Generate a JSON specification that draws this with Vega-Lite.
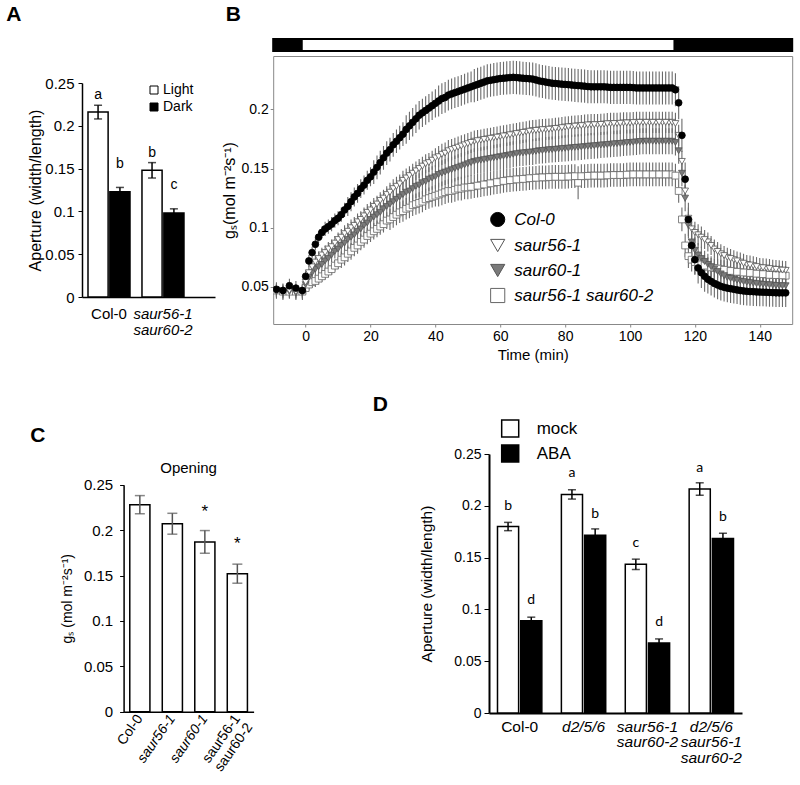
{
"$schema": "https://vega.github.io/schema/vega-lite/v6.json",
"padding": {"left": 6, "top": 3, "right": 2, "bottom": 2},
"background": "white",
"config": {
  "view": {"stroke": null},
  "font": "Liberation Sans",
  "axis": {"grid": false, "domainColor": "black", "tickColor": "black", "labelColor": "black", "titleColor": "black", "titleFontWeight": "normal", "labelFont": "Liberation Sans", "titleFont": "Liberation Sans"},
  "legend": {"labelFont": "Liberation Sans", "labelColor": "black", "padding": 0},
  "title": {"font": "Liberation Sans", "color": "black"}
},
"datasets": {
  "pa": [
    {"geno": "Col-0", "cond": "Light", "v": 0.216, "se": 0.008, "lab": "a"},
    {"geno": "Col-0", "cond": "Dark", "v": 0.123, "se": 0.005, "lab": "b"},
    {"geno": "saur56-1 saur60-2", "cond": "Light", "v": 0.148, "se": 0.009, "lab": "b"},
    {"geno": "saur56-1 saur60-2", "cond": "Dark", "v": 0.098, "se": 0.005, "lab": "c"}
  ],
  "pc": [
    {"geno": "Col-0", "v": 0.228, "se": 0.010, "sig": ""},
    {"geno": "saur56-1", "v": 0.207, "se": 0.0115, "sig": ""},
    {"geno": "saur60-1", "v": 0.187, "se": 0.0125, "sig": "*"},
    {"geno": "saur56-1 saur60-2", "v": 0.152, "se": 0.0105, "sig": "*"}
  ],
  "pd": [
    {"geno": "Col-0", "trt": "mock", "v": 0.180, "se": 0.004, "lab": "b"},
    {"geno": "Col-0", "trt": "ABA", "v": 0.089, "se": 0.0035, "lab": "d"},
    {"geno": "d2/5/6", "trt": "mock", "v": 0.211, "se": 0.0045, "lab": "a"},
    {"geno": "d2/5/6", "trt": "ABA", "v": 0.1715, "se": 0.0062, "lab": "b"},
    {"geno": "saur56-1 saur60-2", "trt": "mock", "v": 0.1435, "se": 0.005, "lab": "c"},
    {"geno": "saur56-1 saur60-2", "trt": "ABA", "v": 0.0675, "se": 0.004, "lab": "d"},
    {"geno": "d2/5/6 saur56-1 saur60-2", "trt": "mock", "v": 0.2162, "se": 0.006, "lab": "a"},
    {"geno": "d2/5/6 saur56-1 saur60-2", "trt": "ABA", "v": 0.1685, "se": 0.005, "lab": "b"}
  ],
  "pb": [
{"t":-9,"g":"d","v":0.047,"e":0.005},{"t":-7,"g":"d","v":0.046,"e":0.005},{"t":-5,"g":"d","v":0.046,"e":0.005},{"t":-3,"g":"d","v":0.046,"e":0.005},{"t":-1,"g":"d","v":0.046,"e":0.005},
{"t":0,"g":"d","v":0.049,"e":0.005},{"t":1,"g":"d","v":0.052,"e":0.005},{"t":2,"g":"d","v":0.054,"e":0.005},{"t":3,"g":"d","v":0.055,"e":0.005},{"t":4,"g":"d","v":0.057,"e":0.005},{"t":5,"g":"d","v":0.059,"e":0.005},{"t":6,"g":"d","v":0.061,"e":0.005},{"t":7,"g":"d","v":0.063,"e":0.005},{"t":8,"g":"d","v":0.065,"e":0.005},{"t":9,"g":"d","v":0.068,"e":0.005},{"t":10,"g":"d","v":0.070,"e":0.005},
{"t":11,"g":"d","v":0.073,"e":0.007},{"t":12,"g":"d","v":0.075,"e":0.007},{"t":13,"g":"d","v":0.078,"e":0.007},{"t":14,"g":"d","v":0.080,"e":0.007},{"t":15,"g":"d","v":0.083,"e":0.007},{"t":16,"g":"d","v":0.085,"e":0.007},{"t":17,"g":"d","v":0.088,"e":0.007},{"t":18,"g":"d","v":0.090,"e":0.007},{"t":19,"g":"d","v":0.093,"e":0.007},{"t":20,"g":"d","v":0.095,"e":0.007},{"t":21,"g":"d","v":0.097,"e":0.007},{"t":22,"g":"d","v":0.099,"e":0.007},{"t":23,"g":"d","v":0.101,"e":0.007},{"t":24,"g":"d","v":0.103,"e":0.007},{"t":25,"g":"d","v":0.106,"e":0.007},
{"t":26,"g":"d","v":0.107,"e":0.009},{"t":27,"g":"d","v":0.109,"e":0.009},{"t":28,"g":"d","v":0.111,"e":0.009},{"t":29,"g":"d","v":0.113,"e":0.009},{"t":30,"g":"d","v":0.114,"e":0.009},{"t":31,"g":"d","v":0.116,"e":0.009},{"t":32,"g":"d","v":0.117,"e":0.009},{"t":33,"g":"d","v":0.119,"e":0.009},{"t":34,"g":"d","v":0.120,"e":0.009},{"t":35,"g":"d","v":0.121,"e":0.009},{"t":36,"g":"d","v":0.122,"e":0.009},{"t":37,"g":"d","v":0.124,"e":0.009},{"t":38,"g":"d","v":0.125,"e":0.009},{"t":39,"g":"d","v":0.126,"e":0.009},{"t":40,"g":"d","v":0.127,"e":0.009},
{"t":41,"g":"d","v":0.128,"e":0.010},{"t":42,"g":"d","v":0.129,"e":0.010},{"t":43,"g":"d","v":0.130,"e":0.010},{"t":44,"g":"d","v":0.131,"e":0.010},{"t":45,"g":"d","v":0.131,"e":0.010},{"t":46,"g":"d","v":0.132,"e":0.010},{"t":47,"g":"d","v":0.133,"e":0.010},{"t":48,"g":"d","v":0.133,"e":0.010},{"t":49,"g":"d","v":0.134,"e":0.010},{"t":50,"g":"d","v":0.134,"e":0.010},
{"t":52,"g":"d","v":0.135,"e":0.010},{"t":54,"g":"d","v":0.136,"e":0.010},{"t":56,"g":"d","v":0.137,"e":0.010},{"t":58,"g":"d","v":0.138,"e":0.010},{"t":60,"g":"d","v":0.139,"e":0.010},{"t":62,"g":"d","v":0.140,"e":0.010},{"t":64,"g":"d","v":0.1405,"e":0.010},{"t":66,"g":"d","v":0.141,"e":0.010},{"t":68,"g":"d","v":0.1415,"e":0.010},{"t":70,"g":"d","v":0.142,"e":0.010},{"t":72,"g":"d","v":0.1425,"e":0.010},{"t":74,"g":"d","v":0.1425,"e":0.010},{"t":76,"g":"d","v":0.143,"e":0.010},{"t":78,"g":"d","v":0.143,"e":0.010},{"t":80,"g":"d","v":0.143,"e":0.010},{"t":82,"g":"d","v":0.1435,"e":0.010},{"t":84,"g":"d","v":0.138,"e":0.014},{"t":86,"g":"d","v":0.1435,"e":0.010},{"t":88,"g":"d","v":0.144,"e":0.010},{"t":90,"g":"d","v":0.144,"e":0.010},{"t":92,"g":"d","v":0.144,"e":0.010},{"t":94,"g":"d","v":0.1445,"e":0.010},{"t":96,"g":"d","v":0.1445,"e":0.010},{"t":98,"g":"d","v":0.1445,"e":0.010},{"t":100,"g":"d","v":0.145,"e":0.010},{"t":102,"g":"d","v":0.145,"e":0.010},{"t":104,"g":"d","v":0.145,"e":0.010},{"t":106,"g":"d","v":0.145,"e":0.010},{"t":108,"g":"d","v":0.145,"e":0.010},{"t":110,"g":"d","v":0.145,"e":0.010},{"t":112,"g":"d","v":0.145,"e":0.010},
{"t":113,"g":"d","v":0.145,"e":0.010},{"t":114,"g":"d","v":0.144,"e":0.010},{"t":115,"g":"d","v":0.131,"e":0.010},{"t":116,"g":"d","v":0.107,"e":0.010},{"t":117,"g":"d","v":0.085,"e":0.010},{"t":118,"g":"d","v":0.076,"e":0.010},{"t":119,"g":"d","v":0.073,"e":0.010},{"t":120,"g":"d","v":0.071,"e":0.010},{"t":121,"g":"d","v":0.070,"e":0.010},{"t":122,"g":"d","v":0.069,"e":0.010},
{"t":124,"g":"d","v":0.067,"e":0.008},{"t":126,"g":"d","v":0.066,"e":0.008},{"t":128,"g":"d","v":0.065,"e":0.008},{"t":130,"g":"d","v":0.064,"e":0.008},{"t":132,"g":"d","v":0.063,"e":0.008},{"t":134,"g":"d","v":0.0625,"e":0.008},{"t":136,"g":"d","v":0.062,"e":0.008},{"t":138,"g":"d","v":0.0615,"e":0.008},{"t":140,"g":"d","v":0.061,"e":0.008},{"t":142,"g":"d","v":0.0605,"e":0.008},{"t":144,"g":"d","v":0.060,"e":0.008},{"t":146,"g":"d","v":0.060,"e":0.008},{"t":148,"g":"d","v":0.0595,"e":0.008},
{"t":51,"g":"d","v":0.1345,"e":0.010},{"t":53,"g":"d","v":0.1355,"e":0.010},{"t":55,"g":"d","v":0.1365,"e":0.010},{"t":57,"g":"d","v":0.1375,"e":0.010},{"t":59,"g":"d","v":0.1385,"e":0.010},{"t":61,"g":"d","v":0.1395,"e":0.010},{"t":63,"g":"d","v":0.1402,"e":0.010},{"t":65,"g":"d","v":0.1408,"e":0.010},{"t":67,"g":"d","v":0.1412,"e":0.010},{"t":69,"g":"d","v":0.1418,"e":0.010},{"t":71,"g":"d","v":0.1422,"e":0.010},{"t":73,"g":"d","v":0.1425,"e":0.010},{"t":75,"g":"d","v":0.1428,"e":0.010},{"t":77,"g":"d","v":0.143,"e":0.010},{"t":79,"g":"d","v":0.143,"e":0.010},{"t":81,"g":"d","v":0.1432,"e":0.010},{"t":83,"g":"d","v":0.1435,"e":0.010},{"t":85,"g":"d","v":0.1435,"e":0.010},{"t":87,"g":"d","v":0.1438,"e":0.010},{"t":89,"g":"d","v":0.144,"e":0.010},{"t":91,"g":"d","v":0.144,"e":0.010},{"t":93,"g":"d","v":0.1442,"e":0.010},{"t":95,"g":"d","v":0.1445,"e":0.010},{"t":97,"g":"d","v":0.1445,"e":0.010},{"t":99,"g":"d","v":0.1448,"e":0.010},{"t":101,"g":"d","v":0.145,"e":0.010},{"t":103,"g":"d","v":0.145,"e":0.010},{"t":105,"g":"d","v":0.145,"e":0.010},{"t":107,"g":"d","v":0.145,"e":0.010},{"t":109,"g":"d","v":0.145,"e":0.010},{"t":111,"g":"d","v":0.145,"e":0.010},
{"t":123,"g":"d","v":0.068,"e":0.008},{"t":125,"g":"d","v":0.0665,"e":0.008},{"t":127,"g":"d","v":0.0655,"e":0.008},{"t":129,"g":"d","v":0.0645,"e":0.008},{"t":131,"g":"d","v":0.0635,"e":0.008},{"t":133,"g":"d","v":0.0628,"e":0.008},{"t":135,"g":"d","v":0.0622,"e":0.008},{"t":137,"g":"d","v":0.0618,"e":0.008},{"t":139,"g":"d","v":0.0612,"e":0.008},{"t":141,"g":"d","v":0.0608,"e":0.008},{"t":143,"g":"d","v":0.0602,"e":0.008},{"t":145,"g":"d","v":0.060,"e":0.008},{"t":147,"g":"d","v":0.0598,"e":0.008},

{"t":-9,"g":"c","v":0.046,"e":0.006},{"t":-7,"g":"c","v":0.045,"e":0.006},{"t":-5,"g":"c","v":0.046,"e":0.006},{"t":-3,"g":"c","v":0.045,"e":0.006},{"t":-1,"g":"c","v":0.045,"e":0.006},
{"t":0,"g":"c","v":0.052,"e":0.006},{"t":1,"g":"c","v":0.058,"e":0.006},{"t":2,"g":"c","v":0.062,"e":0.006},{"t":3,"g":"c","v":0.065,"e":0.006},{"t":4,"g":"c","v":0.067,"e":0.006},{"t":5,"g":"c","v":0.069,"e":0.006},{"t":6,"g":"c","v":0.072,"e":0.006},{"t":7,"g":"c","v":0.074,"e":0.006},{"t":8,"g":"c","v":0.077,"e":0.006},{"t":9,"g":"c","v":0.080,"e":0.006},{"t":10,"g":"c","v":0.082,"e":0.006},
{"t":11,"g":"c","v":0.085,"e":0.008},{"t":12,"g":"c","v":0.087,"e":0.008},{"t":13,"g":"c","v":0.090,"e":0.008},{"t":14,"g":"c","v":0.092,"e":0.008},{"t":15,"g":"c","v":0.094,"e":0.008},{"t":16,"g":"c","v":0.097,"e":0.008},{"t":17,"g":"c","v":0.099,"e":0.008},{"t":18,"g":"c","v":0.102,"e":0.008},{"t":19,"g":"c","v":0.104,"e":0.008},{"t":20,"g":"c","v":0.107,"e":0.008},{"t":21,"g":"c","v":0.109,"e":0.008},{"t":22,"g":"c","v":0.111,"e":0.008},{"t":23,"g":"c","v":0.113,"e":0.008},{"t":24,"g":"c","v":0.116,"e":0.008},{"t":25,"g":"c","v":0.118,"e":0.008},
{"t":26,"g":"c","v":0.120,"e":0.010},{"t":27,"g":"c","v":0.122,"e":0.010},{"t":28,"g":"c","v":0.124,"e":0.010},{"t":29,"g":"c","v":0.126,"e":0.010},{"t":30,"g":"c","v":0.128,"e":0.010},{"t":31,"g":"c","v":0.130,"e":0.010},{"t":32,"g":"c","v":0.131,"e":0.010},{"t":33,"g":"c","v":0.133,"e":0.010},{"t":34,"g":"c","v":0.135,"e":0.010},{"t":35,"g":"c","v":0.136,"e":0.010},{"t":36,"g":"c","v":0.138,"e":0.010},{"t":37,"g":"c","v":0.139,"e":0.010},{"t":38,"g":"c","v":0.141,"e":0.010},{"t":39,"g":"c","v":0.142,"e":0.010},{"t":40,"g":"c","v":0.143,"e":0.010},
{"t":41,"g":"c","v":0.145,"e":0.011},{"t":42,"g":"c","v":0.146,"e":0.011},{"t":43,"g":"c","v":0.147,"e":0.011},{"t":44,"g":"c","v":0.148,"e":0.011},{"t":45,"g":"c","v":0.149,"e":0.011},{"t":46,"g":"c","v":0.150,"e":0.011},{"t":47,"g":"c","v":0.151,"e":0.011},{"t":48,"g":"c","v":0.152,"e":0.011},{"t":49,"g":"c","v":0.153,"e":0.011},{"t":50,"g":"c","v":0.154,"e":0.011},
{"t":52,"g":"c","v":0.156,"e":0.011},{"t":54,"g":"c","v":0.157,"e":0.011},{"t":56,"g":"c","v":0.158,"e":0.011},{"t":58,"g":"c","v":0.159,"e":0.011},{"t":60,"g":"c","v":0.160,"e":0.011},{"t":62,"g":"c","v":0.161,"e":0.011},{"t":64,"g":"c","v":0.162,"e":0.011},{"t":66,"g":"c","v":0.163,"e":0.011},{"t":68,"g":"c","v":0.1635,"e":0.011},{"t":70,"g":"c","v":0.164,"e":0.011},{"t":72,"g":"c","v":0.165,"e":0.011},{"t":74,"g":"c","v":0.1655,"e":0.011},{"t":76,"g":"c","v":0.166,"e":0.011},{"t":78,"g":"c","v":0.1665,"e":0.011},{"t":80,"g":"c","v":0.167,"e":0.011},{"t":82,"g":"c","v":0.1675,"e":0.011},{"t":84,"g":"c","v":0.168,"e":0.011},{"t":86,"g":"c","v":0.1685,"e":0.011},{"t":88,"g":"c","v":0.169,"e":0.011},{"t":90,"g":"c","v":0.1695,"e":0.011},{"t":92,"g":"c","v":0.170,"e":0.011},{"t":94,"g":"c","v":0.1705,"e":0.011},{"t":96,"g":"c","v":0.171,"e":0.011},{"t":98,"g":"c","v":0.1715,"e":0.011},{"t":100,"g":"c","v":0.172,"e":0.011},{"t":102,"g":"c","v":0.1725,"e":0.011},{"t":104,"g":"c","v":0.173,"e":0.011},{"t":106,"g":"c","v":0.173,"e":0.011},{"t":108,"g":"c","v":0.173,"e":0.011},{"t":110,"g":"c","v":0.173,"e":0.011},{"t":112,"g":"c","v":0.173,"e":0.011},
{"t":113,"g":"c","v":0.173,"e":0.011},{"t":114,"g":"c","v":0.172,"e":0.011},{"t":115,"g":"c","v":0.165,"e":0.011},{"t":116,"g":"c","v":0.146,"e":0.011},{"t":117,"g":"c","v":0.125,"e":0.011},{"t":118,"g":"c","v":0.102,"e":0.011},{"t":119,"g":"c","v":0.088,"e":0.011},{"t":120,"g":"c","v":0.081,"e":0.011},{"t":121,"g":"c","v":0.077,"e":0.010},{"t":122,"g":"c","v":0.074,"e":0.010},
{"t":124,"g":"c","v":0.069,"e":0.009},{"t":126,"g":"c","v":0.065,"e":0.009},{"t":128,"g":"c","v":0.061,"e":0.009},{"t":130,"g":"c","v":0.058,"e":0.009},{"t":132,"g":"c","v":0.0565,"e":0.009},{"t":134,"g":"c","v":0.055,"e":0.009},{"t":136,"g":"c","v":0.054,"e":0.009},{"t":138,"g":"c","v":0.0532,"e":0.009},{"t":140,"g":"c","v":0.0525,"e":0.009},{"t":142,"g":"c","v":0.052,"e":0.009},{"t":144,"g":"c","v":0.0515,"e":0.009},{"t":146,"g":"c","v":0.051,"e":0.009},{"t":148,"g":"c","v":0.051,"e":0.009},
{"t":51,"g":"c","v":0.155,"e":0.011},{"t":53,"g":"c","v":0.1565,"e":0.011},{"t":55,"g":"c","v":0.1575,"e":0.011},{"t":57,"g":"c","v":0.1585,"e":0.011},{"t":59,"g":"c","v":0.1595,"e":0.011},{"t":61,"g":"c","v":0.1605,"e":0.011},{"t":63,"g":"c","v":0.1615,"e":0.011},{"t":65,"g":"c","v":0.1625,"e":0.011},{"t":67,"g":"c","v":0.1632,"e":0.011},{"t":69,"g":"c","v":0.1638,"e":0.011},{"t":71,"g":"c","v":0.1645,"e":0.011},{"t":73,"g":"c","v":0.1652,"e":0.011},{"t":75,"g":"c","v":0.1658,"e":0.011},{"t":77,"g":"c","v":0.1662,"e":0.011},{"t":79,"g":"c","v":0.1668,"e":0.011},{"t":81,"g":"c","v":0.1672,"e":0.011},{"t":83,"g":"c","v":0.1678,"e":0.011},{"t":85,"g":"c","v":0.1682,"e":0.011},{"t":87,"g":"c","v":0.1688,"e":0.011},{"t":89,"g":"c","v":0.1692,"e":0.011},{"t":91,"g":"c","v":0.1698,"e":0.011},{"t":93,"g":"c","v":0.1702,"e":0.011},{"t":95,"g":"c","v":0.1708,"e":0.011},{"t":97,"g":"c","v":0.1712,"e":0.011},{"t":99,"g":"c","v":0.1718,"e":0.011},{"t":101,"g":"c","v":0.1722,"e":0.011},{"t":103,"g":"c","v":0.1728,"e":0.011},{"t":105,"g":"c","v":0.173,"e":0.011},{"t":107,"g":"c","v":0.173,"e":0.011},{"t":109,"g":"c","v":0.173,"e":0.011},{"t":111,"g":"c","v":0.173,"e":0.011},
{"t":123,"g":"c","v":0.0715,"e":0.009},{"t":125,"g":"c","v":0.067,"e":0.009},{"t":127,"g":"c","v":0.063,"e":0.009},{"t":129,"g":"c","v":0.0595,"e":0.009},{"t":131,"g":"c","v":0.0572,"e":0.009},{"t":133,"g":"c","v":0.0557,"e":0.009},{"t":135,"g":"c","v":0.0545,"e":0.009},{"t":137,"g":"c","v":0.0536,"e":0.009},{"t":139,"g":"c","v":0.0528,"e":0.009},{"t":141,"g":"c","v":0.0522,"e":0.009},{"t":143,"g":"c","v":0.0518,"e":0.009},{"t":145,"g":"c","v":0.0512,"e":0.009},{"t":147,"g":"c","v":0.051,"e":0.009},

{"t":-9,"g":"b","v":0.047,"e":0.006},{"t":-7,"g":"b","v":0.046,"e":0.006},{"t":-5,"g":"b","v":0.047,"e":0.006},{"t":-3,"g":"b","v":0.046,"e":0.006},{"t":-1,"g":"b","v":0.046,"e":0.006},
{"t":0,"g":"b","v":0.054,"e":0.006},{"t":1,"g":"b","v":0.062,"e":0.006},{"t":2,"g":"b","v":0.067,"e":0.006},{"t":3,"g":"b","v":0.071,"e":0.006},{"t":4,"g":"b","v":0.074,"e":0.006},{"t":5,"g":"b","v":0.077,"e":0.006},{"t":6,"g":"b","v":0.079,"e":0.006},{"t":7,"g":"b","v":0.082,"e":0.006},{"t":8,"g":"b","v":0.084,"e":0.006},{"t":9,"g":"b","v":0.087,"e":0.006},{"t":10,"g":"b","v":0.090,"e":0.006},
{"t":11,"g":"b","v":0.092,"e":0.007},{"t":12,"g":"b","v":0.095,"e":0.007},{"t":13,"g":"b","v":0.097,"e":0.007},{"t":14,"g":"b","v":0.100,"e":0.007},{"t":15,"g":"b","v":0.102,"e":0.007},{"t":16,"g":"b","v":0.105,"e":0.007},{"t":17,"g":"b","v":0.107,"e":0.007},{"t":18,"g":"b","v":0.110,"e":0.007},{"t":19,"g":"b","v":0.113,"e":0.007},{"t":20,"g":"b","v":0.115,"e":0.007},{"t":21,"g":"b","v":0.118,"e":0.007},{"t":22,"g":"b","v":0.120,"e":0.007},{"t":23,"g":"b","v":0.123,"e":0.007},{"t":24,"g":"b","v":0.125,"e":0.007},{"t":25,"g":"b","v":0.128,"e":0.007},
{"t":26,"g":"b","v":0.130,"e":0.008},{"t":27,"g":"b","v":0.133,"e":0.008},{"t":28,"g":"b","v":0.135,"e":0.008},{"t":29,"g":"b","v":0.137,"e":0.008},{"t":30,"g":"b","v":0.140,"e":0.008},{"t":31,"g":"b","v":0.142,"e":0.008},{"t":32,"g":"b","v":0.144,"e":0.008},{"t":33,"g":"b","v":0.146,"e":0.008},{"t":34,"g":"b","v":0.148,"e":0.008},{"t":35,"g":"b","v":0.150,"e":0.008},{"t":36,"g":"b","v":0.152,"e":0.008},{"t":37,"g":"b","v":0.154,"e":0.008},{"t":38,"g":"b","v":0.155,"e":0.008},{"t":39,"g":"b","v":0.157,"e":0.008},{"t":40,"g":"b","v":0.159,"e":0.008},
{"t":41,"g":"b","v":0.160,"e":0.009},{"t":42,"g":"b","v":0.162,"e":0.009},{"t":43,"g":"b","v":0.163,"e":0.009},{"t":44,"g":"b","v":0.165,"e":0.009},{"t":45,"g":"b","v":0.166,"e":0.009},{"t":46,"g":"b","v":0.167,"e":0.009},{"t":47,"g":"b","v":0.168,"e":0.009},{"t":48,"g":"b","v":0.169,"e":0.009},{"t":49,"g":"b","v":0.170,"e":0.009},{"t":50,"g":"b","v":0.171,"e":0.009},
{"t":52,"g":"b","v":0.173,"e":0.009},{"t":54,"g":"b","v":0.174,"e":0.009},{"t":56,"g":"b","v":0.175,"e":0.009},{"t":58,"g":"b","v":0.176,"e":0.009},{"t":60,"g":"b","v":0.177,"e":0.009},{"t":62,"g":"b","v":0.178,"e":0.009},{"t":64,"g":"b","v":0.179,"e":0.009},{"t":66,"g":"b","v":0.180,"e":0.009},{"t":68,"g":"b","v":0.181,"e":0.009},{"t":70,"g":"b","v":0.182,"e":0.009},{"t":72,"g":"b","v":0.1825,"e":0.009},{"t":74,"g":"b","v":0.183,"e":0.009},{"t":76,"g":"b","v":0.1835,"e":0.009},{"t":78,"g":"b","v":0.184,"e":0.009},{"t":80,"g":"b","v":0.185,"e":0.009},{"t":82,"g":"b","v":0.1855,"e":0.009},{"t":84,"g":"b","v":0.186,"e":0.009},{"t":86,"g":"b","v":0.1865,"e":0.009},{"t":88,"g":"b","v":0.187,"e":0.009},{"t":90,"g":"b","v":0.187,"e":0.009},{"t":92,"g":"b","v":0.1875,"e":0.009},{"t":94,"g":"b","v":0.188,"e":0.009},{"t":96,"g":"b","v":0.188,"e":0.009},{"t":98,"g":"b","v":0.1885,"e":0.009},{"t":100,"g":"b","v":0.1885,"e":0.009},{"t":102,"g":"b","v":0.189,"e":0.009},{"t":104,"g":"b","v":0.189,"e":0.009},{"t":106,"g":"b","v":0.189,"e":0.009},{"t":108,"g":"b","v":0.189,"e":0.009},{"t":110,"g":"b","v":0.189,"e":0.009},{"t":112,"g":"b","v":0.189,"e":0.009},
{"t":113,"g":"b","v":0.189,"e":0.009},{"t":114,"g":"b","v":0.188,"e":0.009},{"t":115,"g":"b","v":0.178,"e":0.009},{"t":116,"g":"b","v":0.156,"e":0.009},{"t":117,"g":"b","v":0.131,"e":0.009},{"t":118,"g":"b","v":0.108,"e":0.009},{"t":119,"g":"b","v":0.099,"e":0.009},{"t":120,"g":"b","v":0.096,"e":0.009},{"t":121,"g":"b","v":0.094,"e":0.009},{"t":122,"g":"b","v":0.092,"e":0.009},
{"t":124,"g":"b","v":0.088,"e":0.008},{"t":126,"g":"b","v":0.082,"e":0.008},{"t":128,"g":"b","v":0.078,"e":0.008},{"t":130,"g":"b","v":0.075,"e":0.008},{"t":132,"g":"b","v":0.073,"e":0.008},{"t":134,"g":"b","v":0.071,"e":0.008},{"t":136,"g":"b","v":0.069,"e":0.008},{"t":138,"g":"b","v":0.068,"e":0.008},{"t":140,"g":"b","v":0.0665,"e":0.008},{"t":142,"g":"b","v":0.066,"e":0.008},{"t":144,"g":"b","v":0.065,"e":0.008},{"t":146,"g":"b","v":0.0645,"e":0.008},{"t":148,"g":"b","v":0.064,"e":0.008},
{"t":51,"g":"b","v":0.172,"e":0.009},{"t":53,"g":"b","v":0.1735,"e":0.009},{"t":55,"g":"b","v":0.1745,"e":0.009},{"t":57,"g":"b","v":0.1755,"e":0.009},{"t":59,"g":"b","v":0.1765,"e":0.009},{"t":61,"g":"b","v":0.1775,"e":0.009},{"t":63,"g":"b","v":0.1785,"e":0.009},{"t":65,"g":"b","v":0.1795,"e":0.009},{"t":67,"g":"b","v":0.1805,"e":0.009},{"t":69,"g":"b","v":0.1815,"e":0.009},{"t":71,"g":"b","v":0.1822,"e":0.009},{"t":73,"g":"b","v":0.1828,"e":0.009},{"t":75,"g":"b","v":0.1832,"e":0.009},{"t":77,"g":"b","v":0.1838,"e":0.009},{"t":79,"g":"b","v":0.1845,"e":0.009},{"t":81,"g":"b","v":0.1852,"e":0.009},{"t":83,"g":"b","v":0.1858,"e":0.009},{"t":85,"g":"b","v":0.1862,"e":0.009},{"t":87,"g":"b","v":0.1868,"e":0.009},{"t":89,"g":"b","v":0.187,"e":0.009},{"t":91,"g":"b","v":0.1872,"e":0.009},{"t":93,"g":"b","v":0.1878,"e":0.009},{"t":95,"g":"b","v":0.188,"e":0.009},{"t":97,"g":"b","v":0.1882,"e":0.009},{"t":99,"g":"b","v":0.1885,"e":0.009},{"t":101,"g":"b","v":0.1888,"e":0.009},{"t":103,"g":"b","v":0.189,"e":0.009},{"t":105,"g":"b","v":0.189,"e":0.009},{"t":107,"g":"b","v":0.189,"e":0.009},{"t":109,"g":"b","v":0.189,"e":0.009},{"t":111,"g":"b","v":0.189,"e":0.009},
{"t":123,"g":"b","v":0.090,"e":0.008},{"t":125,"g":"b","v":0.085,"e":0.008},{"t":127,"g":"b","v":0.080,"e":0.008},{"t":129,"g":"b","v":0.0765,"e":0.008},{"t":131,"g":"b","v":0.074,"e":0.008},{"t":133,"g":"b","v":0.072,"e":0.008},{"t":135,"g":"b","v":0.070,"e":0.008},{"t":137,"g":"b","v":0.0685,"e":0.008},{"t":139,"g":"b","v":0.0672,"e":0.008},{"t":141,"g":"b","v":0.0662,"e":0.008},{"t":143,"g":"b","v":0.0655,"e":0.008},{"t":145,"g":"b","v":0.0648,"e":0.008},{"t":147,"g":"b","v":0.0642,"e":0.008},

{"t":-9,"g":"a","v":0.048,"e":0.006},{"t":-7,"g":"a","v":0.047,"e":0.006},{"t":-5,"g":"a","v":0.051,"e":0.006},{"t":-3,"g":"a","v":0.049,"e":0.006},{"t":-1,"g":"a","v":0.047,"e":0.006},
{"t":0,"g":"a","v":0.059,"e":0.005},{"t":1,"g":"a","v":0.072,"e":0.005},{"t":2,"g":"a","v":0.079,"e":0.005},{"t":3,"g":"a","v":0.086,"e":0.005},{"t":4,"g":"a","v":0.092,"e":0.005},{"t":5,"g":"a","v":0.096,"e":0.005},{"t":6,"g":"a","v":0.099,"e":0.006},{"t":7,"g":"a","v":0.101,"e":0.006},{"t":8,"g":"a","v":0.103,"e":0.006},{"t":9,"g":"a","v":0.106,"e":0.006},{"t":10,"g":"a","v":0.108,"e":0.006},{"t":11,"g":"a","v":0.111,"e":0.006},{"t":12,"g":"a","v":0.115,"e":0.006},
{"t":13,"g":"a","v":0.118,"e":0.008},{"t":14,"g":"a","v":0.122,"e":0.008},{"t":15,"g":"a","v":0.126,"e":0.008},{"t":16,"g":"a","v":0.129,"e":0.008},{"t":17,"g":"a","v":0.133,"e":0.008},{"t":18,"g":"a","v":0.136,"e":0.008},{"t":19,"g":"a","v":0.140,"e":0.008},{"t":20,"g":"a","v":0.143,"e":0.008},
{"t":21,"g":"a","v":0.147,"e":0.010},{"t":22,"g":"a","v":0.151,"e":0.010},{"t":23,"g":"a","v":0.155,"e":0.010},{"t":24,"g":"a","v":0.159,"e":0.010},{"t":25,"g":"a","v":0.163,"e":0.010},{"t":26,"g":"a","v":0.166,"e":0.010},{"t":27,"g":"a","v":0.170,"e":0.010},{"t":28,"g":"a","v":0.173,"e":0.010},{"t":29,"g":"a","v":0.176,"e":0.010},{"t":30,"g":"a","v":0.179,"e":0.010},
{"t":31,"g":"a","v":0.183,"e":0.012},{"t":32,"g":"a","v":0.186,"e":0.012},{"t":33,"g":"a","v":0.189,"e":0.012},{"t":34,"g":"a","v":0.192,"e":0.012},{"t":35,"g":"a","v":0.195,"e":0.012},{"t":36,"g":"a","v":0.197,"e":0.012},{"t":37,"g":"a","v":0.199,"e":0.012},{"t":38,"g":"a","v":0.201,"e":0.012},{"t":39,"g":"a","v":0.203,"e":0.012},{"t":40,"g":"a","v":0.205,"e":0.012},
{"t":41,"g":"a","v":0.207,"e":0.013},{"t":42,"g":"a","v":0.209,"e":0.013},{"t":43,"g":"a","v":0.210,"e":0.013},{"t":44,"g":"a","v":0.212,"e":0.013},{"t":45,"g":"a","v":0.213,"e":0.013},{"t":46,"g":"a","v":0.214,"e":0.013},{"t":47,"g":"a","v":0.215,"e":0.013},{"t":48,"g":"a","v":0.216,"e":0.013},{"t":49,"g":"a","v":0.217,"e":0.013},{"t":50,"g":"a","v":0.218,"e":0.013},
{"t":52,"g":"a","v":0.220,"e":0.014},{"t":54,"g":"a","v":0.222,"e":0.014},{"t":56,"g":"a","v":0.224,"e":0.014},{"t":58,"g":"a","v":0.225,"e":0.014},{"t":60,"g":"a","v":0.226,"e":0.014},{"t":62,"g":"a","v":0.2265,"e":0.014},{"t":64,"g":"a","v":0.227,"e":0.014},{"t":66,"g":"a","v":0.2265,"e":0.014},{"t":68,"g":"a","v":0.226,"e":0.014},{"t":70,"g":"a","v":0.2255,"e":0.014},{"t":72,"g":"a","v":0.224,"e":0.014},{"t":74,"g":"a","v":0.223,"e":0.014},{"t":76,"g":"a","v":0.222,"e":0.014},{"t":78,"g":"a","v":0.2215,"e":0.014},{"t":80,"g":"a","v":0.221,"e":0.014},{"t":82,"g":"a","v":0.2205,"e":0.014},{"t":84,"g":"a","v":0.220,"e":0.014},{"t":86,"g":"a","v":0.2195,"e":0.014},{"t":88,"g":"a","v":0.219,"e":0.014},{"t":90,"g":"a","v":0.219,"e":0.014},{"t":92,"g":"a","v":0.219,"e":0.014},{"t":94,"g":"a","v":0.2185,"e":0.014},{"t":96,"g":"a","v":0.2185,"e":0.014},{"t":98,"g":"a","v":0.2185,"e":0.014},{"t":100,"g":"a","v":0.2185,"e":0.014},{"t":102,"g":"a","v":0.218,"e":0.014},{"t":104,"g":"a","v":0.218,"e":0.014},{"t":106,"g":"a","v":0.218,"e":0.014},{"t":108,"g":"a","v":0.218,"e":0.014},{"t":110,"g":"a","v":0.218,"e":0.014},{"t":112,"g":"a","v":0.218,"e":0.014},
{"t":113,"g":"a","v":0.218,"e":0.014},{"t":114,"g":"a","v":0.2165,"e":0.014},{"t":115,"g":"a","v":0.2055,"e":0.014},{"t":116,"g":"a","v":0.178,"e":0.014},{"t":117,"g":"a","v":0.141,"e":0.014},{"t":118,"g":"a","v":0.107,"e":0.014},{"t":119,"g":"a","v":0.085,"e":0.014},{"t":120,"g":"a","v":0.073,"e":0.013},{"t":121,"g":"a","v":0.066,"e":0.013},{"t":122,"g":"a","v":0.062,"e":0.013},
{"t":124,"g":"a","v":0.0565,"e":0.012},{"t":126,"g":"a","v":0.053,"e":0.012},{"t":128,"g":"a","v":0.0505,"e":0.012},{"t":130,"g":"a","v":0.049,"e":0.012},{"t":132,"g":"a","v":0.048,"e":0.012},{"t":134,"g":"a","v":0.047,"e":0.012},{"t":136,"g":"a","v":0.0463,"e":0.012},{"t":138,"g":"a","v":0.046,"e":0.012},{"t":140,"g":"a","v":0.0457,"e":0.012},{"t":142,"g":"a","v":0.0455,"e":0.012},{"t":144,"g":"a","v":0.0452,"e":0.012},{"t":146,"g":"a","v":0.045,"e":0.012},{"t":148,"g":"a","v":0.045,"e":0.012},
{"t":51,"g":"a","v":0.219,"e":0.013},{"t":53,"g":"a","v":0.221,"e":0.014},{"t":55,"g":"a","v":0.223,"e":0.014},{"t":57,"g":"a","v":0.2245,"e":0.014},{"t":59,"g":"a","v":0.2255,"e":0.014},{"t":61,"g":"a","v":0.2262,"e":0.014},{"t":63,"g":"a","v":0.2268,"e":0.014},{"t":65,"g":"a","v":0.2268,"e":0.014},{"t":67,"g":"a","v":0.2262,"e":0.014},{"t":69,"g":"a","v":0.2258,"e":0.014},{"t":71,"g":"a","v":0.2248,"e":0.014},{"t":73,"g":"a","v":0.2235,"e":0.014},{"t":75,"g":"a","v":0.2225,"e":0.014},{"t":77,"g":"a","v":0.2218,"e":0.014},{"t":79,"g":"a","v":0.2212,"e":0.014},{"t":81,"g":"a","v":0.2208,"e":0.014},{"t":83,"g":"a","v":0.2202,"e":0.014},{"t":85,"g":"a","v":0.2198,"e":0.014},{"t":87,"g":"a","v":0.2192,"e":0.014},{"t":89,"g":"a","v":0.219,"e":0.014},{"t":91,"g":"a","v":0.219,"e":0.014},{"t":93,"g":"a","v":0.2188,"e":0.014},{"t":95,"g":"a","v":0.2185,"e":0.014},{"t":97,"g":"a","v":0.2185,"e":0.014},{"t":99,"g":"a","v":0.2185,"e":0.014},{"t":101,"g":"a","v":0.2183,"e":0.014},{"t":103,"g":"a","v":0.218,"e":0.014},{"t":105,"g":"a","v":0.218,"e":0.014},{"t":107,"g":"a","v":0.218,"e":0.014},{"t":109,"g":"a","v":0.218,"e":0.014},{"t":111,"g":"a","v":0.218,"e":0.014},
{"t":123,"g":"a","v":0.059,"e":0.013},{"t":125,"g":"a","v":0.0547,"e":0.012},{"t":127,"g":"a","v":0.0517,"e":0.012},{"t":129,"g":"a","v":0.0497,"e":0.012},{"t":131,"g":"a","v":0.0485,"e":0.012},{"t":133,"g":"a","v":0.0475,"e":0.012},{"t":135,"g":"a","v":0.0466,"e":0.012},{"t":137,"g":"a","v":0.0461,"e":0.012},{"t":139,"g":"a","v":0.0458,"e":0.012},{"t":141,"g":"a","v":0.0456,"e":0.012},{"t":143,"g":"a","v":0.0453,"e":0.012},{"t":145,"g":"a","v":0.0451,"e":0.012},{"t":147,"g":"a","v":0.045,"e":0.012}
  ]
},
"columns": 2,
"align": "each",
"bounds": "flush",
"spacing": {"row": 5, "column": 19.2},
"resolve": {
  "scale": {"x": "independent", "y": "independent", "xOffset": "independent", "fill": "independent", "shape": "independent", "stroke": "independent"},
  "legend": {"fill": "independent", "shape": "independent", "stroke": "independent"}
},
"concat": [
  {"width": 10, "height": 12, "data": {"values": []}, "mark": "point"},
  {
    "width": 519, "height": 12,
    "title": {"text": "B", "anchor": "start", "frame": "group", "dx": -47.5, "offset": -3.5, "fontSize": 21, "fontWeight": "bold", "baseline": "alphabetic"},
    "data": {"values": [{"s": -10, "e": 150, "phase": "dark"}, {"s": -1.2, "e": 113.7, "phase": "light"}]},
    "mark": {"type": "rect", "stroke": "black", "strokeWidth": 2},
    "encoding": {
      "x": {"field": "s", "type": "quantitative", "scale": {"domain": [-10, 150], "nice": false, "zero": false}, "axis": null},
      "x2": {"field": "e"},
      "fill": {"field": "phase", "type": "nominal", "scale": {"domain": ["dark", "light"], "range": ["black", "white"]}, "legend": null}
    }
  },
  {
    "width": 133, "height": 268,
    "title": {"text": "A", "anchor": "start", "frame": "group", "dx": -75.7, "offset": 14.5, "fontSize": 21, "fontWeight": "bold", "baseline": "alphabetic"},
    "data": {"name": "pa"},
    "encoding": {
      "x": {"field": "geno", "type": "nominal", "sort": null, "scale": {"paddingInner": 0.222, "paddingOuter": 0.343, "align": 0.162},
        "axis": {"title": null, "offset": -27, "labelAngle": 0, "ticks": false, "tickSize": 0, "domainWidth": 1.5, "labelFontSize": 15, "labelBaseline": "middle", "labelPadding": 16, "labelLineHeight": 16.7, "labelExpr": "split(datum.label, ' ')",
          "labelFontStyle": {"condition": {"test": "datum.value == 'Col-0'", "value": "normal"}, "value": "italic"}}},
      "xOffset": {"field": "cond", "type": "nominal", "sort": ["Light", "Dark"], "scale": {"paddingInner": 0.08}},
      "y": {"field": "v", "type": "quantitative", "scale": {"domain": [0, 0.25], "nice": false, "range": [241, 27]},
        "axis": {"values": [0, 0.05, 0.1, 0.15, 0.2, 0.25], "format": "~g", "title": "Aperture (width/length)", "titleFontSize": 16, "titlePadding": 1, "labelFontSize": 15, "tickSize": 4, "labelPadding": 4, "domainWidth": 1.5}}
    },
    "layer": [
      {"mark": {"type": "bar", "stroke": "black", "strokeWidth": 1.5},
        "encoding": {
          "fill": {"field": "cond", "type": "nominal", "sort": ["Light", "Dark"], "scale": {"domain": ["Light", "Dark"], "range": ["white", "black"]},
            "legend": {"title": null, "orient": "none", "legendX": 65, "legendY": 27, "symbolType": "square", "symbolSize": 64, "symbolStrokeColor": "black", "symbolStrokeWidth": 1, "labelFontSize": 14, "labelOffset": 2, "rowPadding": 3}}
        }},
      {"mark": {"type": "errorbar", "ticks": true, "size": 8, "thickness": 1.5, "color": "black"},
        "encoding": {"yError": {"field": "se"}}},
      {"transform": [{"filter": "datum.cond == 'Light'"}],
        "mark": {"type": "text", "dy": -17.5, "fontSize": 14, "baseline": "middle", "color": "black"},
        "encoding": {"text": {"field": "lab"}}},
      {"transform": [{"filter": "datum.cond == 'Dark'"}],
        "mark": {"type": "text", "dy": -28, "fontSize": 14, "baseline": "middle", "color": "black"},
        "encoding": {"text": {"field": "lab"}}}
    ]
  },
  {
    "width": 519, "height": 268,
    "view": {"stroke": "#888", "strokeWidth": 1},
    "data": {"name": "pb"},
    "encoding": {
      "x": {"field": "t", "type": "quantitative", "scale": {"domain": [-10, 150], "nice": false, "zero": false},
        "axis": {"values": [0, 20, 40, 60, 80, 100, 120, 140], "title": "Time (min)", "titleFontSize": 15, "labelFontSize": 14, "domain": false, "tickSize": 3, "tickColor": "#888", "labelPadding": 2, "titlePadding": 4}},
      "y": {"field": "v", "type": "quantitative", "scale": {"domain": [0.0187, 0.245], "nice": false, "zero": false},
        "axis": {"values": [0.05, 0.1, 0.15, 0.2], "format": "~g", "title": "gₛ(mol m⁻²s⁻¹)", "titleFontSize": 16, "titlePadding": 3, "labelFontSize": 14, "domain": false, "tickSize": 3, "tickColor": "#888", "labelPadding": 2}}
    },
    "layer": [
      {"mark": {"type": "errorbar", "color": "#6a6a6a", "thickness": 1.1, "clip": true},
        "encoding": {"yError": {"field": "e"}, "detail": {"field": "g"}}},
      {"mark": {"type": "point", "size": 46, "strokeWidth": 0.8, "opacity": 1, "clip": true},
        "encoding": {
          "shape": {"field": "g", "type": "nominal", "scale": {"domain": ["a", "b", "c", "d"], "range": ["circle", "triangle-down", "triangle-down", "square"]},
            "legend": {"title": null, "orient": "none", "legendX": 216, "legendY": 155, "symbolSize": 200, "symbolStrokeWidth": 1, "labelFontSize": 17, "labelFontStyle": "italic", "labelOffset": 8, "rowPadding": 7, "padding": 0,
              "labelExpr": "datum.label == 'a' ? 'Col-0' : datum.label == 'b' ? 'saur56-1' : datum.label == 'c' ? 'saur60-1' : 'saur56-1 saur60-2'"}},
          "fill": {"field": "g", "type": "nominal", "scale": {"domain": ["a", "b", "c", "d"], "range": ["black", "white", "#7a7a7a", "white"]}},
          "stroke": {"field": "g", "type": "nominal", "scale": {"domain": ["a", "b", "c", "d"], "range": ["black", "#555555", "#555555", "#666666"]}}
        }}
    ]
  },
  {"width": 10, "height": 120, "data": {"values": []}, "mark": "point",
    "title": {"text": "C", "anchor": "start", "frame": "group", "dx": -51.7, "offset": -133.5, "fontSize": 21, "fontWeight": "bold", "baseline": "alphabetic"}},
  {"width": 10, "height": 1, "data": {"values": []}, "mark": "point"},
  {
    "width": 171.6, "height": 257.7,
    "title": {"text": "Opening", "anchor": "middle", "frame": "group", "dx": 20.8, "offset": -33.9, "fontSize": 15, "fontWeight": "normal", "baseline": "alphabetic"},
    "data": {"name": "pc"},
    "encoding": {
      "x": {"field": "geno", "type": "nominal", "sort": null, "scale": {"paddingInner": 0.38, "paddingOuter": 0.19, "range": [41.6, 171.6]},
        "axis": {"title": null, "labelAngle": -55, "labelAlign": "right", "labelBaseline": "middle", "labelFontSize": 14, "labelPadding": 4, "ticks": false, "tickSize": 0, "domainWidth": 1.5, "labelExpr": "split(datum.label, ' ')", "labelLineHeight": 15,
          "labelFontStyle": {"condition": {"test": "datum.value == 'saur56-1' || datum.value == 'saur60-1'", "value": "italic"}, "value": "normal"}}},
      "y": {"field": "v", "type": "quantitative", "scale": {"domain": [0, 0.25], "nice": false, "range": [257.7, 30.7]},
        "axis": {"offset": -41.6, "values": [0, 0.05, 0.1, 0.15, 0.2, 0.25], "format": "~g", "title": "gₛ (mol m⁻²s⁻¹)", "titleFontSize": 14, "titlePadding": 9, "labelFontSize": 15, "tickSize": 4, "labelPadding": 7, "domainWidth": 1.5}}
    },
    "layer": [
      {"mark": {"type": "bar", "fill": "white", "stroke": "black", "strokeWidth": 1.5}},
      {"mark": {"type": "errorbar", "ticks": true, "size": 10, "thickness": 1.5, "color": "#555555"}, "encoding": {"yError": {"field": "se"}}},
      {"mark": {"type": "text", "dy": -30, "fontSize": 17, "baseline": "middle", "color": "black"}, "encoding": {"text": {"field": "sig"}}}
    ]
  },
  {
    "width": 468.8, "height": 259,
    "title": {"text": "D", "anchor": "start", "frame": "group", "dx": 99.5, "offset": -13.2, "fontSize": 21, "fontWeight": "bold", "baseline": "alphabetic"},
    "data": {"name": "pd"},
    "encoding": {
      "x": {"field": "geno", "type": "nominal", "sort": null, "scale": {"paddingInner": 0.306, "paddingOuter": 0.133, "range": [215.8, 468.8]},
        "axis": {"title": null, "labelAngle": 0, "labelBaseline": "top", "labelFontSize": 15.5, "labelPadding": 6, "labelLineHeight": 15.5, "ticks": false, "tickSize": 0, "domainWidth": 2, "labelExpr": "split(datum.label, ' ')",
          "labelFontStyle": {"condition": {"test": "datum.value == 'Col-0'", "value": "normal"}, "value": "italic"}}},
      "xOffset": {"field": "trt", "type": "nominal", "sort": ["mock", "ABA"], "scale": {"paddingInner": 0.09}},
      "y": {"field": "v", "type": "quantitative", "scale": {"domain": [0, 0.25], "nice": false},
        "axis": {"offset": -215.8, "values": [0, 0.05, 0.1, 0.15, 0.2, 0.25], "format": "~g", "title": "Aperture (width/length)", "titleFontSize": 15.5, "titlePadding": 19, "labelFontSize": 14, "tickSize": 5, "labelPadding": 3, "domainWidth": 2}}
    },
    "layer": [
      {"mark": {"type": "bar", "stroke": "black", "strokeWidth": 1.5},
        "encoding": {
          "fill": {"field": "trt", "type": "nominal", "sort": ["mock", "ABA"], "scale": {"domain": ["mock", "ABA"], "range": ["white", "black"]},
            "legend": {"title": null, "orient": "none", "legendX": 227.5, "legendY": -35, "symbolType": "square", "symbolSize": 290, "symbolStrokeColor": "black", "symbolStrokeWidth": 1.5, "labelFontSize": 17, "labelOffset": 17, "rowPadding": 0, "padding": 0}}
        }},
      {"mark": {"type": "errorbar", "ticks": true, "size": 8, "thickness": 1.5, "color": "black"},
        "encoding": {"yError": {"field": "se"}}},
      {"mark": {"type": "text", "dy": -21, "font": "Lato", "fontSize": 14, "baseline": "middle", "color": "black"},
        "encoding": {"text": {"field": "lab"}}}
    ]
  }
]
}
